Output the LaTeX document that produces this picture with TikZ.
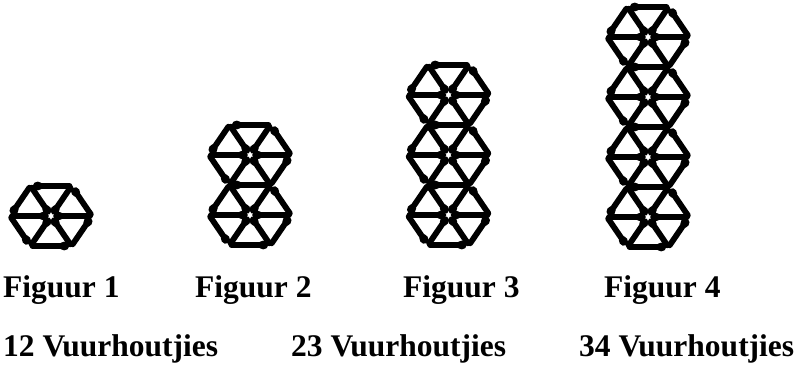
\documentclass[tikz,border=0pt]{standalone}
\usepackage{fontspec}
\setmainfont{Liberation Serif}
\usetikzlibrary{arrows.meta}

% one matchstick: a thick stick with a round head at its far end
\tikzset{
  stick/.style={line width=5.8pt, line cap=round, shorten <=2pt, shorten >=2.5pt,
    -{Circle[length=9.5pt,width=8.5pt]}},
  caption/.style={font=\bfseries\fontsize{31.5}{36}\selectfont, anchor=base west, inner sep=0pt},
}

% a column of hexagons: centre x, centre y of the lowest one, count
\newcommand{\hexstack}[3]{%
  \foreach \k in {1,...,#3}{
    \pgfmathsetmacro{\cy}{#2-60*(\k-1)}
    \coordinate (c) at (#1,\cy);
    \coordinate (r) at (#1+41,\cy);
    \coordinate (ur) at (#1+20.5,\cy-30);
    \coordinate (ul) at (#1-20.5,\cy-30);
    \coordinate (l) at (#1-41,\cy);
    \coordinate (ll) at (#1-20.5,\cy+30);
    \coordinate (lr) at (#1+20.5,\cy+30);
    % rim
    \draw[stick] (ur) -- (ul);
    \draw[stick] (ul) -- (l);
    \draw[stick] (l) -- (ll);
    \draw[stick] (lr) -- (r);
    \draw[stick] (r) -- (ur);
    \ifnum\k=1 \draw[stick] (ll) -- (lr);\fi
    % spokes
    \foreach \v in {r,ur,ul,l,ll,lr} \draw[stick] (\v) -- (c);
  }%
}

\begin{document}
\begin{tikzpicture}[x=1pt,y=-1pt]
  \useasboundingbox (0,0) rectangle (798,367);

  \hexstack{51}{216}{1}
  \hexstack{250}{215}{2}
  \hexstack{448.5}{215}{3}
  \hexstack{648}{217}{4}

  \node[caption] (f1) at (3,297) {Figuur 1};
  \node[caption] (f2) at (195,297) {Figuur 2};
  \node[caption] (f3) at (403,297) {Figuur 3};
  \node[caption] (f4) at (604,297) {Figuur 4};

  \node[caption] (n1) at (3,356) {12 Vuurhoutjies};
  \node[caption] (n2) at (291,356) {23 Vuurhoutjies};
  \node[caption] (n3) at (579,356) {34 Vuurhoutjies};
\end{tikzpicture}
\end{document}
